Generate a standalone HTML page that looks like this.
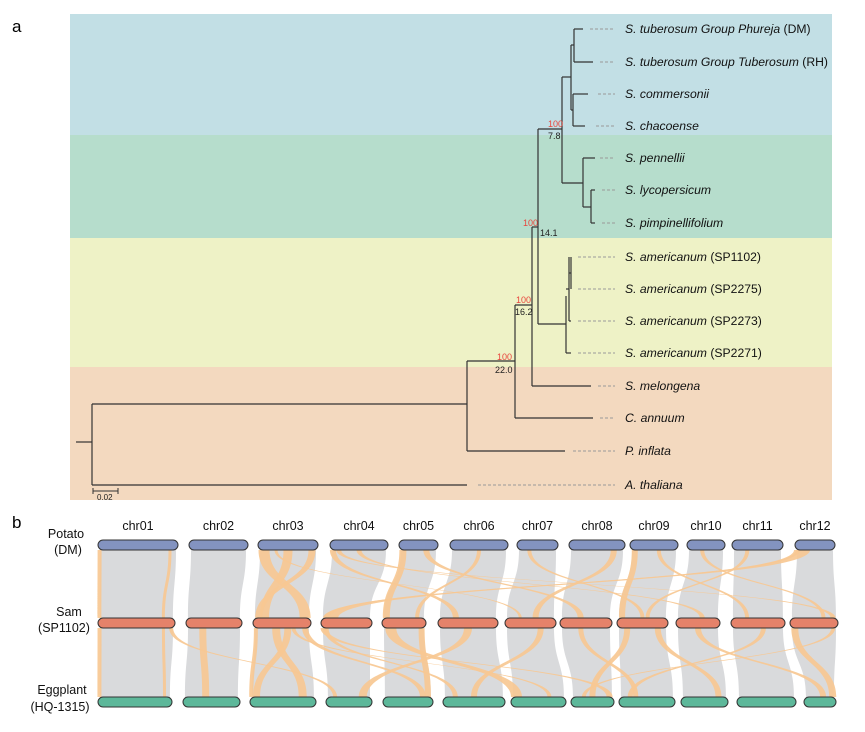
<!DOCTYPE html>
<html><head><meta charset="utf-8"><style>
body{margin:0;background:#fff;}
svg{display:block;font-family:"Liberation Sans",Arial,sans-serif;}
</style></head><body>
<svg id="fig" width="865" height="732" viewBox="0 0 865 732" xmlns="http://www.w3.org/2000/svg">
<g>
<text x="12" y="32" font-size="17">a</text>
<rect x="70" y="14" width="762" height="121" fill="#c2dfe5"/>
<rect x="70" y="135" width="762" height="103" fill="#b6ddcc"/>
<rect x="70" y="238" width="762" height="129" fill="#eef2c6"/>
<rect x="70" y="367" width="762" height="133" fill="#f3d9bf"/>
<g id="tree" stroke="#333" stroke-width="1.2" fill="none"></g>
<g id="dashes" stroke="#999" stroke-width="1" stroke-dasharray="3,2"></g>
<g id="tips" font-size="12.2" fill="#111"></g>
<g font-size="9">
<text x="548" y="127" fill="#e8453c">100</text><text x="548" y="139" fill="#222">7.8</text>
<text x="523" y="226" fill="#e8453c">100</text><text x="540" y="236" fill="#222">14.1</text>
<text x="516" y="303" fill="#e8453c">100</text><text x="515" y="315" fill="#222">16.2</text>
<text x="497" y="360" fill="#e8453c">100</text><text x="495" y="373" fill="#222">22.0</text>
</g>
<g stroke="#333" stroke-width="1">
<line x1="93" y1="491" x2="118" y2="491"/><line x1="93" y1="488" x2="93" y2="494"/><line x1="118" y1="488" x2="118" y2="494"/>
<text x="97" y="500" font-size="8" stroke="none" fill="#222">0.02</text>
</g>
</g>
<g>
<text x="12" y="528" font-size="17">b</text>
<g font-size="12.5" text-anchor="middle" fill="#111">
<text x="66" y="538">Potato</text><text x="68" y="554">(DM)</text>
<text x="69" y="616">Sam</text><text x="64" y="632">(SP1102)</text>
<text x="62" y="694">Eggplant</text><text x="60" y="711">(HQ-1315)</text>
</g>
<g id="syn"></g>
</g>
</svg>
<script>
const NS="http://www.w3.org/2000/svg";
function mk(tag,attrs,parent){const e=document.createElementNS(NS,tag);for(const k in attrs)e.setAttribute(k,attrs[k]);parent.appendChild(e);return e;}
// ---- tree data ----
const tipNames=[["S. tuberosum Group Phureja"," (DM)"],["S. tuberosum Group Tuberosum"," (RH)"],["S. commersonii",""],["S. chacoense",""],["S. pennellii",""],["S. lycopersicum",""],["S. pimpinellifolium",""],["S. americanum"," (SP1102)"],["S. americanum"," (SP2275)"],["S. americanum"," (SP2273)"],["S. americanum"," (SP2271)"],["S. melongena",""],["C. annuum",""],["P. inflata",""],["A. thaliana",""]];
const tipY=[29,62,94,126,158,190,223,257,289,321,353,386,418,451,485];
const tipEnd=[583,593,588,585,595,595,595,571,571,571,571,591,593,565,467];
const dashStart=[590,600,598,596,600,602,602,578,578,578,578,598,600,573,478];
const vSegs=[[92,404,485],[467,361,451],[515,305,418],[532,227,386],[538,129,324],[562,77,183],[571,45,110],[574,29,62],[573,94,126],[583,158,207],[591,190,223],[566,296,353],[569,257,321],[571,257,289]];
const hSegs=[[76,92,442],[92,467,404],[467,515,361],[515,532,305],[532,538,227],[538,562,129],[562,571,77],[571,574,45],[571,573,110],[562,583,183],[583,591,207],[538,566,324],[566,569,289],[569,571,273]];
const tree=document.getElementById('tree'),dashes=document.getElementById('dashes'),tips=document.getElementById('tips');
const parents=[574,574,573,573,583,591,591,571,571,569,566,532,515,467,92];
vSegs.forEach(s=>{const l=mk('line',{x1:s[0],x2:s[0],y1:s[1],y2:s[2]},tree);

});
hSegs.forEach(s=>{const l=mk('line',{x1:s[0],x2:s[1],y1:s[2],y2:s[2]},tree);

});
tipNames.forEach((n,i)=>{
 const l=mk('line',{x1:parents[i],x2:tipEnd[i],y1:tipY[i],y2:tipY[i]},tree);
 
 
 const d=mk('line',{x1:dashStart[i],x2:615,y1:tipY[i],y2:tipY[i]},dashes);
 
 
 const t=mk('text',{x:625,y:tipY[i]+4},tips);
 
 
 const a=mk('tspan',{'font-style':'italic'},t);a.textContent=n[0];
 if(n[1]){const b=mk('tspan',{},t);b.textContent=n[1];}
});
// ---- synteny data ----
const chrNames=["chr01","chr02","chr03","chr04","chr05","chr06","chr07","chr08","chr09","chr10","chr11","chr12"];
const rowY=[545,623,702];
const rowColors=["#8393c0","#e5826a","#5db89a"];
const potatoStart=[98,189,258,330,399,450,517,569,630,687,732,795];
const potatoEnd=[178,248,318,388,438,508,558,625,678,725,783,835];
const samStart=[98,186,253,321,382,438,505,560,617,676,731,790];
const samEnd=[175,242,311,372,426,498,556,612,668,720,785,838];
const eggStart=[98,183,250,326,383,443,511,571,619,681,737,804];
const eggEnd=[172,240,316,372,433,505,566,614,675,728,796,836];
const linkRow=[0,0,0,0,0,0,0,0,0,0,0,0,0,0,0,0,0,0,0,0,1,1,1,1,1,1,1,1,1,1,1,1,1,1,1,1,1,1,1,1,1,1];
const linkChrA=[0,0,2,2,2,3,3,4,4,5,6,7,8,8,9,10,11,2,3,11,0,0,1,2,2,2,2,3,4,4,5,6,7,8,8,9,10,11,11,2,3,0];
const linkFracA=[0.02,0.9,0.1,0.5,0.9,0.05,0.5,0.1,0.7,0.5,0.3,0.8,0.1,0.6,0.4,0.3,0.2,0.3,0.15,0.05,0.02,0.85,0.3,0.05,0.4,0.6,0.9,0.1,0.2,0.9,0.5,0.7,0.4,0.2,0.8,0.5,0.6,0.1,0.9,0.7,0.05,0.95];
const linkChrB=[0,0,2,2,2,5,9,4,7,4,8,6,8,10,11,8,3,6,11,3,0,0,1,2,2,2,4,5,6,4,3,5,8,7,9,11,8,11,7,6,7,3];
const linkFracB=[0.02,0.85,0.9,0.2,0.1,0.3,0.6,0.1,0.4,0.8,0.5,0.6,0.1,0.3,0.7,0.6,0.2,0.3,0.9,0.1,0.02,0.9,0.4,0.02,0.8,0.1,0.8,0.2,0.1,0.9,0.8,0.5,0.3,0.5,0.8,0.6,0.2,0.9,0.3,0.7,0.9,0.2];
const linkW=[4,3,11,9,7,6,5,7,6,4,4,6,6,4,4,4,14,3,5,6,4,3,7,4,8,7,6,5,11,6,8,6,5,6,6,6,5,7,4,4,6,4];
const starts=[potatoStart,samStart,eggStart],ends=[potatoEnd,samEnd,eggEnd];
const syn=document.getElementById('syn');
function px(row,c,f){return starts[row][c]+f*(ends[row][c]-starts[row][c]);}
for(let r=0;r<2;r++){
 for(let c=0;c<12;c++){
  const y1=rowY[r]+5,y2=rowY[r+1]-5,m=(y1+y2)/2;
  const a1=starts[r][c]+2,a2=ends[r][c]-2,b1=starts[r+1][c]+2,b2=ends[r+1][c]-2;
  const p=mk('path',{d:`M${a1},${y1} C${a1},${m} ${b1},${m} ${b1},${y2} L${b2},${y2} C${b2},${m} ${a2},${m} ${a2},${y1} Z`,fill:'#d9dadc'},syn);
  
  
 }
}
linkRow.forEach((r,i)=>{
 const y1=rowY[r]+5,y2=rowY[r+1]-5,m=(y1+y2)/2;
 const xa=px(r,linkChrA[i],linkFracA[i]),xb=px(r+1,linkChrB[i],linkFracB[i]),w=linkW[i];
 const p=mk('path',{d:`M${xa-w/2},${y1} C${xa-w/2},${m} ${xb-w/2},${m} ${xb-w/2},${y2} L${xb+w/2},${y2} C${xb+w/2},${m} ${xa+w/2},${m} ${xa+w/2},${y1} Z`,fill:'#f7c892','fill-opacity':0.92},syn);
 
 
});
for(let r=0;r<3;r++){
 for(let c=0;c<12;c++){
  const b=mk('rect',{x:starts[r][c],y:rowY[r]-5,width:ends[r][c]-starts[r][c],height:10,rx:5,fill:rowColors[r],stroke:'#333','stroke-width':1},syn);
  
  
 }
}
chrNames.forEach((n,c)=>{
 const t=mk('text',{x:(potatoStart[c]+potatoEnd[c])/2,y:530,'font-size':12.5,'text-anchor':'middle',fill:'#111'},syn);
 
 
 t.textContent=n;
});
</script>
</body></html>
